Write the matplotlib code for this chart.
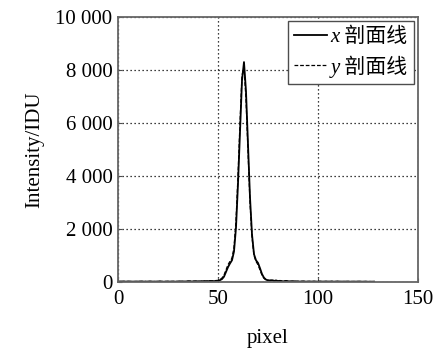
import matplotlib
matplotlib.use("Agg")
from matplotlib import pyplot as plt
from matplotlib.ticker import FuncFormatter

plt.rcParams['font.family'] = ['Liberation Serif', 'Noto Sans CJK SC']

pixel = list(range(1, 129))

# x profile: background then peak
x_base_left = [20, 15, 25, 10, 18, 22, 12, 16, 20, 14, 18, 25, 10, 15, 20, 22, 18, 12, 16, 20,
               24, 15, 10, 18, 20, 14, 22, 16, 12, 20, 25, 18, 15, 20, 30, 22, 18, 26, 30, 24,
               20, 28, 35, 25, 30, 40, 35, 30, 45, 50]
x_peak = [70, 110, 200, 380, 560, 700, 820, 1150, 2050, 3700, 5700, 7600, 8300, 7200, 5200, 3200,
          1800, 1050, 820, 720, 520, 300, 160, 90, 60]
x_base_right = [50, 70, 40, 60, 35, 45, 30, 25, 40, 30, 20, 25, 30, 18, 22, 15, 20, 25, 12, 18,
                20, 15, 22, 18, 12, 20, 16, 14, 20, 18, 15, 22, 12, 18, 20, 16, 14, 18, 15, 20,
                12, 16, 18, 14, 15, 20, 12, 15, 18, 10, 14, 12, 15]
x_profile = x_base_left + x_peak + x_base_right

y_base_left = [15, 22, 12, 20, 25, 14, 18, 10, 22, 16, 20, 12, 18, 24, 14, 20, 16, 22, 12, 18,
               20, 14, 24, 16, 20, 18, 12, 22, 20, 16, 18, 24, 20, 16, 25, 30, 22, 28, 24, 30,
               26, 32, 28, 35, 40, 30, 38, 45, 40, 55]
y_peak = [90, 150, 260, 450, 650, 780, 900, 1300, 2300, 4000, 6000, 7800, 8100, 6900, 4900, 3000,
          1700, 1000, 780, 650, 450, 260, 140, 80, 70]
y_base_right = [60, 80, 50, 45, 55, 40, 35, 30, 45, 28, 25, 30, 22, 26, 20, 18, 24, 20, 15, 22,
                18, 16, 20, 14, 18, 22, 15, 18, 20, 14, 16, 20, 15, 18, 22, 14, 16, 12, 18, 15,
                20, 14, 12, 16, 18, 15, 12, 14, 16, 12, 15, 10, 12]
y_profile = y_base_left + y_peak + y_base_right

fig = plt.figure(figsize=(4.38, 3.51), dpi=100)
ax = fig.add_axes([0.2694, 0.1966, 0.6849, 0.755])

ax.plot(pixel, x_profile, color='black', lw=1.3, label='x 剖面线')
ax.plot(pixel, y_profile, color='black', lw=0.9, ls=(0, (3, 1.5)), label='y 剖面线')

ax.set_xlim(0, 150)
ax.set_ylim(0, 10000)
ax.set_xticks([0, 50, 100, 150])
ax.set_yticks([0, 2000, 4000, 6000, 8000, 10000])
ax.yaxis.set_major_formatter(FuncFormatter(lambda v, p: f"{int(v):,}".replace(',', ' ')))
ax.grid(True, color='black', ls=(0, (1, 2.2)), lw=0.9)
ax.tick_params(direction='in', length=3, labelsize=15, color='0.3')
ax.tick_params(axis='x', pad=6)
ax.tick_params(axis='y', pad=4)
for s in ax.spines.values():
    s.set_color('0.4')
    s.set_linewidth(1.3)

ax.set_xlabel('pixel', fontsize=15, labelpad=14)
ax.set_ylabel('Intensity/IDU', fontsize=15, labelpad=8)

leg = ax.legend(loc='upper right', prop={'size': 15, 'style': 'italic'}, handlelength=1.6,
                handletextpad=0.15, borderpad=0.3, labelspacing=0.4, fancybox=False,
                framealpha=1, borderaxespad=0.2)
leg.get_frame().set_edgecolor('0.3')
leg.get_frame().set_linewidth(1.0)

plt.savefig('out.png', dpi=100)
